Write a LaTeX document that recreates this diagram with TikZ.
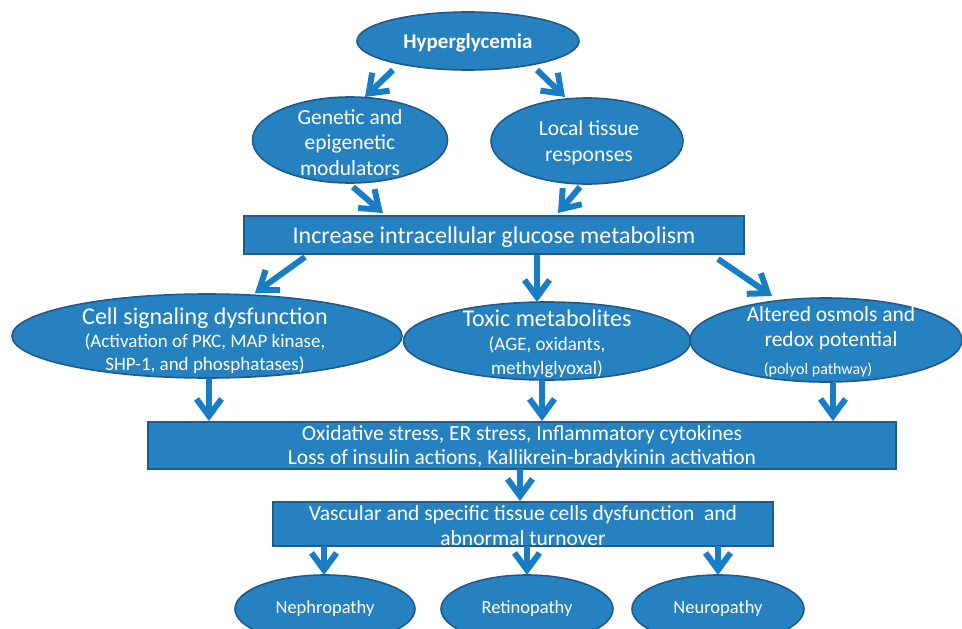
\documentclass[tikz,border=0pt]{standalone}
\usepackage{fontspec}
\setmainfont{Carlito}
\usetikzlibrary{shapes.geometric,arrows.meta,calc}
\definecolor{fillb}{RGB}{38,129,193}
\definecolor{edgeb}{RGB}{30,90,138}
\definecolor{arrb}{RGB}{24,125,196}
\newcommand\fsz[2]{\fontsize{#1}{#2}\selectfont}
\begin{document}
\begin{tikzpicture}[x=1pt,y=-1pt,
  ell/.style={ellipse, draw=edgeb, line width=1.6pt, fill=fillb, inner sep=0pt},
  box/.style={rectangle, draw=edgeb, line width=1.6pt, fill=fillb, inner sep=0pt},
  txt/.style={text=white, align=center, inner sep=0pt},
  arr/.style={draw=arrb, line width=6pt, -{Straight Barb[length=17pt,width=25pt,line width=6pt]}}
]
\useasboundingbox (0,0) rectangle (962,629);

% shapes
\node[ell, minimum width=222, minimum height=58] (h) at (468,41) {};
\node[ell, minimum width=195, minimum height=86] (g) at (350,140) {};
\node[ell, minimum width=192, minimum height=86] (l) at (587,141) {};
\node[box, minimum width=500, minimum height=38] (inc) at (494,235) {};
\node[ell, minimum width=390, minimum height=84] (cell) at (207,336) {};
\node[ell, minimum width=287, minimum height=78] (tox) at (547,341) {};
\node[ell, minimum width=272, minimum height=84] (alt) at (826,340) {};
\node[box, minimum width=748, minimum height=47] (ox) at (522,445.5) {};
\node[box, minimum width=500, minimum height=44] (vasc) at (523,524) {};
\node[ell, minimum width=180, minimum height=68] (neph) at (325,609) {};
\node[ell, minimum width=172, minimum height=68] (ret) at (527,609) {};
\node[ell, minimum width=172, minimum height=68] (neu) at (718,609) {};

% texts
\node[txt, font=\bfseries\fsz{21}{25}] (ht) at (468,43) {Hyperglycemia};
\node[txt, font=\fsz{21.5}{25.5}] (gt) at (350,142.5) {Genetic and\\epigenetic\\modulators};
\node[txt, font=\fsz{21.5}{25.5}] (lt) at (589,143) {Local tissue\\responses};
\node[txt, font=\fsz{24}{28}] (it) at (494,237) {Increase intracellular glucose metabolism};
\node[txt, font=\fsz{19}{23}] (ct) at (205,340.5) {{\fsz{24}{23}Cell signaling dysfunction}\\(Activation of PKC, MAP kinase,\\SHP-1, and phosphatases)};
\node[txt, font=\fsz{19}{24}] (tt) at (547,344) {{\fsz{24}{24}Toxic metabolites}\\(AGE, oxidants,\\methylglyoxal)};
\node[txt, font=\fsz{21.5}{25}] (at) at (831,328.5) {Altered osmols and\\redox potential};
\node[txt, font=\fsz{16}{19}] (pt) at (818,370) {(polyol pathway)};
\node[txt, font=\fsz{21.5}{24}] (ot) at (522,447) {Oxidative stress, ER stress, Inflammatory cytokines\\Loss of insulin actions, Kallikrein-bradykinin activation};
\node[txt, font=\fsz{21.5}{25}] (vt) at (523,525.5) {Vascular and specific tissue cells dysfunction\ \ and\\abnormal turnover};
\node[txt, font=\fsz{18.5}{22}] (nt) at (325,609) {Nephropathy};
\node[txt, font=\fsz{18.5}{22}] (rt) at (527,609) {Retinopathy};
\node[txt, font=\fsz{18.5}{22}] (ut) at (718,609) {Neuropathy};

% arrows
\draw[arr] ($(h)+(-75,29)$) -- ($(g)+(15,-43)$);
\draw[arr] ($(h)+(69,29)$) -- ($(l)+(-22,-44)$);
\draw[arr] ($(g)+(3,47)$) -- ($(inc)+(-111,-22)$);
\draw[arr] ($(l)+(-7,46)$) -- ($(inc)+(64,-22)$);
\draw[arr] ($(inc)+(-189,22)$) -- ($(cell)+(48,-43)$);
\draw[arr] ($(inc)+(43,20)$) -- ($(tox)+(-10,-39)$);
\draw[arr] ($(inc)+(224,24)$) -- ($(alt)+(-54,-44)$);
\draw[arr] ($(cell)+(2,42)$) -- ($(ox)+(-313,-24.5)$);
\draw[arr] ($(tox)+(-5,39)$) -- ($(ox)+(20,-24.5)$);
\draw[arr] ($(alt)+(7,43)$) -- ($(ox)+(311,-24.5)$);
\draw[arr] ($(ox)+(-2,23.5)$) -- ($(vasc)+(-3,-23)$);
\draw[arr] ($(vasc)+(-199,22)$) -- ($(neph)+(-1,-34)$);
\draw[arr] ($(vasc)+(4,22)$) -- ($(ret)+(0,-34)$);
\draw[arr] ($(vasc)+(195,22)$) -- ($(neu)+(0,-34)$);
\end{tikzpicture}
\end{document}
